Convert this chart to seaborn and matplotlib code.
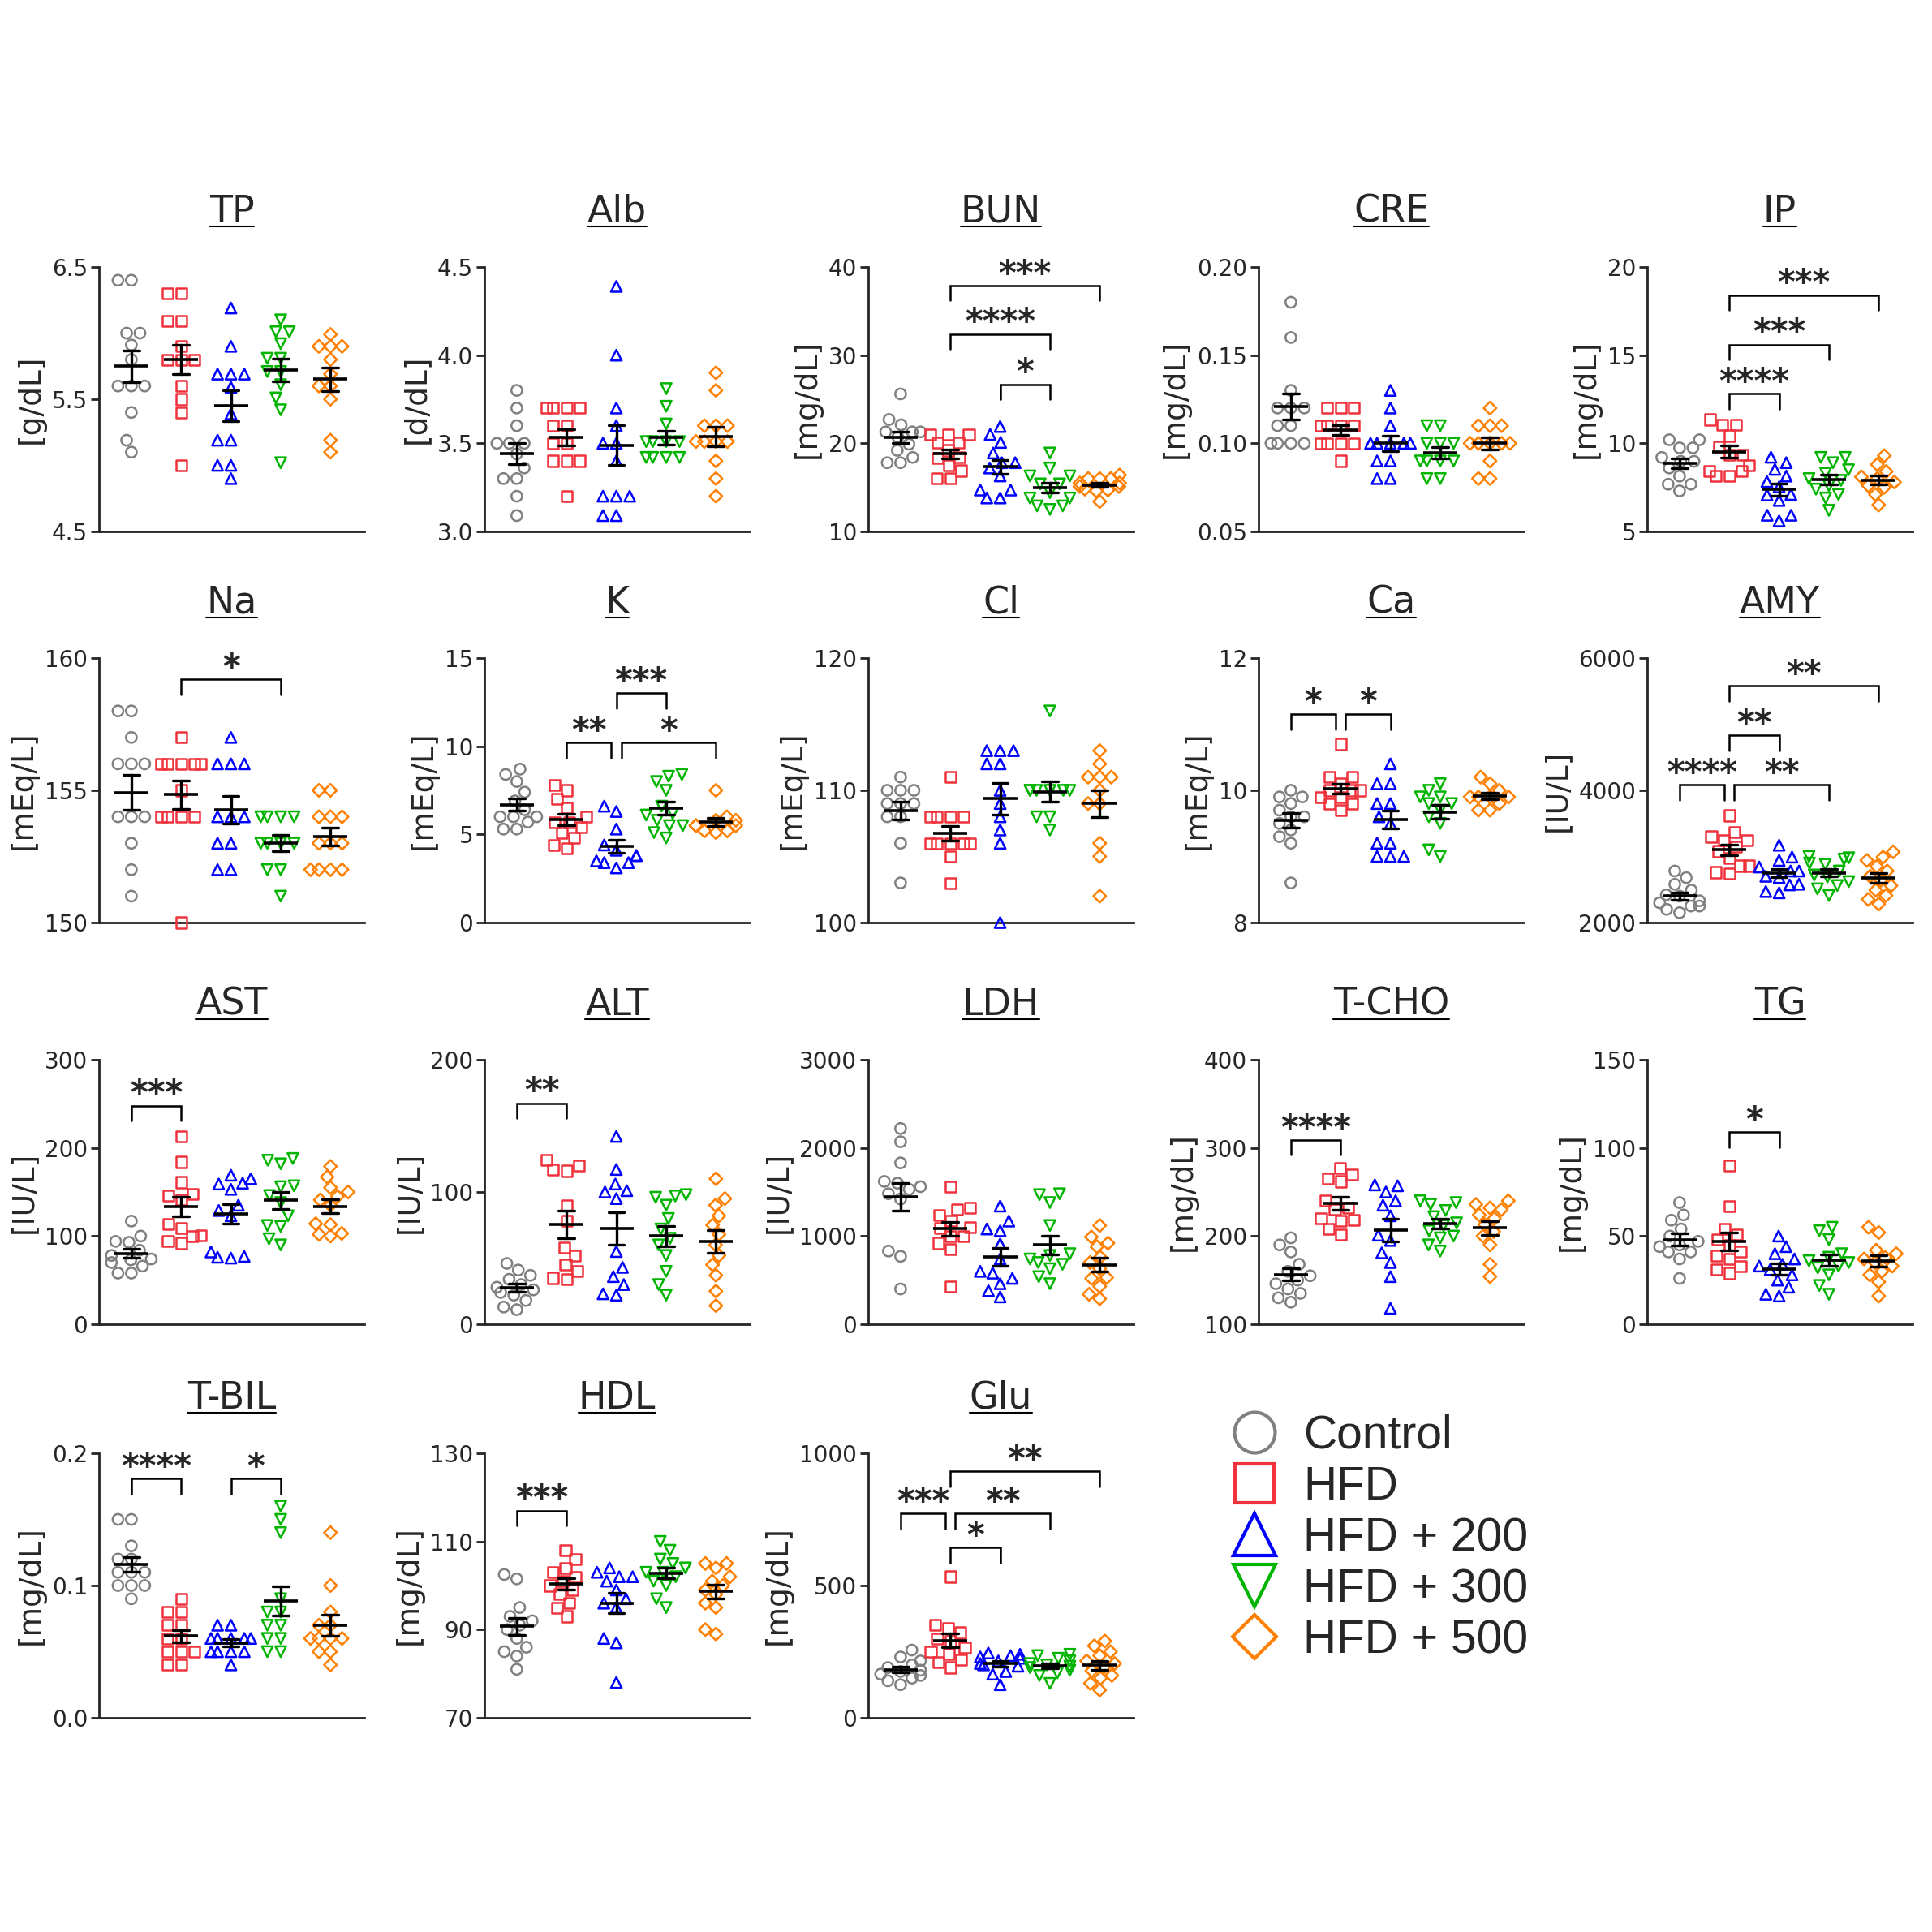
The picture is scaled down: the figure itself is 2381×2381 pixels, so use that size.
import warnings
import numpy as np
import pandas as pd
import seaborn as sns
import matplotlib.pyplot as plt
from matplotlib.lines import Line2D
from matplotlib.ticker import FormatStrFormatter

warnings.filterwarnings('ignore')

groups = ['Control', 'HFD', 'HFD + 200', 'HFD + 300', 'HFD + 500']
colors = ['#808080', '#F0323C', '#0000FF', '#00B400', '#FF8000']
markers = ['o', 's', '^', 'v', 'D']

# values per group: Control, HFD, HFD+200, HFD+300, HFD+500
TP = [
    [6.40, 6.40, 6.00, 6.00, 5.91, 5.80, 5.60, 5.60, 5.60, 5.40, 5.19, 5.10],
    [6.30, 6.30, 6.09, 6.09, 5.90, 5.80, 5.80, 5.80, 5.60, 5.50, 5.40, 5.00],
    [6.19, 5.90, 5.69, 5.69, 5.69, 5.59, 5.39, 5.19, 5.19, 5.00, 5.00, 4.90],
    [6.10, 6.01, 6.01, 5.92, 5.81, 5.81, 5.71, 5.71, 5.61, 5.51, 5.42, 5.02],
    [5.99, 5.90, 5.90, 5.90, 5.80, 5.69, 5.60, 5.60, 5.50, 5.19, 5.10],
]
Alb = [
    [3.80, 3.70, 3.60, 3.50, 3.50, 3.50, 3.44, 3.36, 3.30, 3.30, 3.20, 3.09],
    [3.70, 3.70, 3.70, 3.70, 3.60, 3.60, 3.50, 3.50, 3.40, 3.40, 3.40, 3.20],
    [4.39, 4.00, 3.70, 3.60, 3.50, 3.50, 3.40, 3.20, 3.20, 3.20, 3.09, 3.09],
    [3.81, 3.71, 3.61, 3.51, 3.51, 3.51, 3.51, 3.42, 3.42, 3.42, 3.42],
    [3.90, 3.80, 3.60, 3.60, 3.60, 3.51, 3.51, 3.51, 3.51, 3.40, 3.30, 3.20],
]
BUN = [
    [25.6, 22.7, 22.1, 21.3, 21.3, 21.3, 20.7, 19.9, 19.2, 18.4, 17.8, 17.8],
    [21.0, 21.0, 21.0, 20.1, 20.1, 19.2, 18.4, 18.3, 17.5, 16.9, 16.0, 16.0],
    [21.9, 21.0, 20.1, 18.9, 17.8, 17.8, 17.2, 16.3, 14.7, 14.7, 13.8, 13.8],
    [18.9, 17.2, 16.3, 16.3, 15.4, 15.4, 14.4, 13.8, 13.8, 12.9, 12.9, 12.5],
    [16.4, 16.0, 16.0, 16.0, 15.5, 15.5, 15.1, 15.1, 14.8, 14.7, 14.6, 13.4],
]
CRE = [
    [0.18, 0.16, 0.13, 0.12, 0.12, 0.12, 0.11, 0.11, 0.10, 0.10, 0.10, 0.10],
    [0.12, 0.12, 0.12, 0.11, 0.11, 0.11, 0.11, 0.10, 0.10, 0.10, 0.10, 0.09],
    [0.13, 0.12, 0.11, 0.10, 0.10, 0.10, 0.10, 0.10, 0.09, 0.09, 0.08, 0.08],
    [0.11, 0.11, 0.10, 0.10, 0.10, 0.09, 0.09, 0.09, 0.09, 0.08, 0.08],
    [0.12, 0.11, 0.11, 0.11, 0.10, 0.10, 0.10, 0.10, 0.10, 0.09, 0.08, 0.08],
]
IP = [
    [10.2, 10.2, 9.74, 9.74, 9.2, 8.98, 8.98, 8.6, 8.14, 7.68, 7.68, 7.3],
    [11.35, 11.05, 11.05, 10.43, 9.82, 9.36, 9.36, 8.75, 8.44, 8.44, 8.14, 8.14],
    [9.21, 8.9, 8.52, 8.14, 7.83, 7.53, 7.07, 6.76, 7.1, 5.92, 5.92, 5.6],
    [9.2, 9.2, 8.9, 8.5, 8.3, 8.0, 7.9, 7.6, 7.4, 7.1, 6.9, 6.2],
    [9.3, 8.8, 8.4, 8.1, 8.0, 7.8, 7.6, 7.5, 7.1, 6.5],
]
Na = [
    [158, 158, 157, 156, 156, 156, 154, 154, 154, 153, 152, 151],
    [157, 156, 156, 156, 156, 156, 155, 154, 154, 154, 154, 150],
    [157, 156, 156, 156, 154, 154, 154, 153, 153, 152, 152],
    [154, 154, 154, 154, 153, 153, 153, 153, 152, 152, 151],
    [155, 155, 154, 154, 154, 153, 153, 153, 152, 152, 152, 152],
]
K = [
    [8.7, 8.4, 8.0, 7.4, 6.9, 6.4, 6.0, 6.0, 6.0, 5.7, 5.3, 5.3],
    [7.8, 7.5, 7.0, 6.5, 6.0, 5.7, 5.7, 5.4, 5.1, 4.8, 4.4, 4.2],
    [6.6, 6.3, 5.3, 4.4, 4.1, 3.8, 3.8, 3.5, 3.4, 3.4, 3.1],
    [8.4, 8.3, 8.0, 7.5, 6.6, 6.2, 6.1, 5.8, 5.5, 5.5, 5.1, 4.8],
    [7.5, 6.0, 5.8, 5.8, 5.5, 5.5, 5.5, 5.2, 5.2, 5.1],
]
Cl = [
    [111, 110, 110, 110, 109, 109, 109, 108, 108, 106, 103],
    [111, 108, 108, 108, 108, 106, 106, 106, 106, 106, 105, 103],
    [113, 113, 113, 112, 112, 110, 109, 108, 107, 106, 100],
    [116, 110, 110, 110, 110, 110, 110, 108, 108, 107],
    [113, 112, 111, 111, 111, 110, 109, 109, 106, 105, 102],
]
Ca = [
    [10.0, 9.9, 9.9, 9.8, 9.7, 9.6, 9.6, 9.5, 9.4, 9.3, 9.2, 8.6],
    [10.7, 10.2, 10.2, 10.1, 10.0, 10.0, 10.0, 9.9, 9.9, 9.8, 9.8, 9.7],
    [10.4, 10.1, 10.1, 9.8, 9.8, 9.6, 9.5, 9.2, 9.2, 9.0, 9.0, 9.0],
    [10.1, 10.0, 9.9, 9.9, 9.8, 9.8, 9.7, 9.6, 9.5, 9.1, 9.0],
    [10.2, 10.1, 10.0, 9.9, 9.9, 9.9, 9.9, 9.8, 9.7, 9.7],
]
AMY = [
    [2780, 2680, 2580, 2490, 2420, 2400, 2330, 2300, 2250, 2250, 2200, 2150],
    [3620, 3370, 3300, 3250, 3250, 3150, 3080, 2980, 2860, 2860, 2760, 2740],
    [3170, 2990, 2940, 2840, 2780, 2780, 2700, 2680, 2580, 2570, 2470, 2450],
    [3000, 2980, 2960, 2900, 2880, 2780, 2720, 2690, 2620, 2560, 2510, 2410],
    [3070, 2990, 2940, 2850, 2780, 2700, 2640, 2560, 2490, 2410, 2350, 2280],
]
AST = [
    [117, 100, 94, 93, 84, 78, 74, 73, 70, 66, 58, 58],
    [213, 184, 161, 148, 146, 141, 114, 109, 101, 100, 94, 92],
    [169, 165, 160, 159, 153, 135, 129, 123, 82, 77, 76, 75],
    [188, 186, 182, 157, 156, 146, 138, 123, 112, 111, 97, 90],
    [179, 167, 155, 150, 145, 141, 135, 114, 113, 103, 102, 100],
]
ALT = [
    [46, 41, 37, 34, 30, 28, 26, 24, 22, 18, 13, 11],
    [124, 120, 117, 116, 90, 78, 58, 52, 45, 40, 35, 34],
    [142, 117, 106, 101, 100, 95, 55, 43, 36, 30, 23, 22],
    [98, 97, 96, 90, 80, 72, 65, 60, 52, 40, 30, 22],
    [110, 95, 90, 82, 75, 68, 60, 52, 45, 37, 25, 14],
]
LDH = [
    [2220, 2070, 1830, 1620, 1600, 1560, 1530, 1480, 1420, 830, 770, 400],
    [1560, 1320, 1300, 1240, 1170, 1100, 1090, 1000, 1000, 920, 850, 430],
    [1340, 1170, 1080, 1060, 910, 740, 600, 580, 520, 460, 380, 310],
    [1480, 1470, 1380, 1120, 800, 780, 740, 700, 680, 630, 540, 460],
    [1120, 990, 920, 880, 760, 700, 630, 530, 520, 430, 340, 290],
]
TCHO = [
    [198, 190, 182, 168, 160, 155, 150, 146, 140, 135, 130, 125],
    [277, 270, 265, 262, 240, 230, 232, 218, 220, 217, 208, 202],
    [258, 257, 250, 240, 235, 223, 201, 195, 181, 170, 154, 118],
    [240, 238, 236, 229, 222, 215, 212, 206, 200, 198, 190, 183],
    [240, 236, 232, 230, 224, 220, 213, 205, 200, 190, 168, 154],
]
TG = [
    [69, 62, 59, 54, 50, 47, 45, 44, 41, 41, 37, 26],
    [90, 67, 54, 51, 48, 45, 41, 39, 37, 33, 31, 29],
    [50, 44, 40, 37, 34, 33, 31, 28, 25, 21, 17, 16],
    [55, 53, 48, 40, 36, 33, 38, 35, 32, 28, 22, 17],
    [55, 52, 42, 40, 38, 37, 35, 33, 30, 28, 24, 16],
]
TBIL = [
    [0.15, 0.15, 0.13, 0.12, 0.12, 0.11, 0.11, 0.11, 0.10, 0.10, 0.10, 0.09],
    [0.09, 0.08, 0.08, 0.07, 0.07, 0.06, 0.06, 0.05, 0.05, 0.05, 0.04, 0.04],
    [0.07, 0.07, 0.06, 0.06, 0.06, 0.06, 0.06, 0.05, 0.05, 0.05, 0.05, 0.04],
    [0.16, 0.15, 0.14, 0.09, 0.08, 0.08, 0.07, 0.07, 0.06, 0.06, 0.05, 0.05],
    [0.14, 0.10, 0.08, 0.07, 0.07, 0.06, 0.06, 0.06, 0.06, 0.05, 0.05, 0.04],
]
HDL = [
    [102.5, 101.5, 95, 93, 92, 91, 90, 88, 86, 85, 84, 81],
    [108, 106, 104, 103, 102, 101, 100, 99, 98, 96, 95, 93],
    [104, 103, 102, 102, 101, 99, 97, 96, 95, 88, 87, 78],
    [110, 108, 106, 105, 104, 103, 103, 102, 101, 100, 97, 95],
    [105, 105, 104, 102, 101, 100, 99, 98, 96, 95, 90, 89],
]
Glu = [
    [256, 230, 215, 200, 190, 180, 175, 165, 160, 150, 140, 125],
    [534, 350, 340, 322, 300, 291, 266, 250, 240, 220, 210, 190],
    [245, 240, 235, 230, 225, 215, 205, 200, 195, 175, 165, 125],
    [240, 235, 225, 215, 205, 200, 195, 190, 180, 170, 160, 130],
    [290, 272, 250, 235, 215, 205, 190, 178, 160, 150, 130, 105],
]

# significance brackets: (group a, group b, bracket height, label)
BUN_sig = [(1, 4, 37.9, '***'), (1, 3, 32.4, '****'), (2, 3, 26.7, '*')]
IP_sig = [(1, 4, 18.4, '***'), (1, 3, 15.6, '***'), (1, 2, 12.8, '****')]
Na_sig = [(1, 3, 159.2, '*')]
K_sig = [(2, 3, 13.0, '***'), (1, 2, 10.2, '**'), (2, 4, 10.2, '*')]
Ca_sig = [(0, 1, 11.15, '*'), (1, 2, 11.15, '*')]
AMY_sig = [(1, 4, 5580, '**'), (1, 2, 4830, '**'), (0, 1, 4080, '****'), (1, 3, 4080, '**')]
AST_sig = [(0, 1, 248, '***')]
ALT_sig = [(0, 1, 167, '**')]
TCHO_sig = [(0, 1, 309, '****')]
TG_sig = [(1, 2, 109, '*')]
TBIL_sig = [(0, 1, 0.181, '****'), (2, 3, 0.181, '*')]
HDL_sig = [(0, 1, 117, '***')]
Glu_sig = [(1, 4, 932, '**'), (0, 1, 772, '***'), (1, 3, 772, '**'), (1, 2, 644, '*')]

panels = [
    ('TP', '[g/dL]', TP, [4.5, 5.5, 6.5], '%.1f', []),
    ('Alb', '[d/dL]', Alb, [3.0, 3.5, 4.0, 4.5], '%.1f', []),
    ('BUN', '[mg/dL]', BUN, [10, 20, 30, 40], '%d', BUN_sig),
    ('CRE', '[mg/dL]', CRE, [0.05, 0.10, 0.15, 0.20], '%.2f', []),
    ('IP', '[mg/dL]', IP, [5, 10, 15, 20], '%d', IP_sig),
    ('Na', '[mEq/L]', Na, [150, 155, 160], '%d', Na_sig),
    ('K', '[mEq/L]', K, [0, 5, 10, 15], '%d', K_sig),
    ('Cl', '[mEq/L]', Cl, [100, 110, 120], '%d', []),
    ('Ca', '[mEq/L]', Ca, [8, 10, 12], '%d', Ca_sig),
    ('AMY', '[IU/L]', AMY, [2000, 4000, 6000], '%d', AMY_sig),
    ('AST', '[IU/L]', AST, [0, 100, 200, 300], '%d', AST_sig),
    ('ALT', '[IU/L]', ALT, [0, 100, 200], '%d', ALT_sig),
    ('LDH', '[IU/L]', LDH, [0, 1000, 2000, 3000], '%d', []),
    ('T-CHO', '[mg/dL]', TCHO, [100, 200, 300, 400], '%d', TCHO_sig),
    ('TG', '[mg/dL]', TG, [0, 50, 100, 150], '%d', TG_sig),
    ('T-BIL', '[mg/dL]', TBIL, [0.0, 0.1, 0.2], '%.1f', TBIL_sig),
    ('HDL', '[mg/dL]', HDL, [70, 90, 110, 130], '%d', HDL_sig),
    ('Glu', '[mg/dL]', Glu, [0, 500, 1000], '%d', Glu_sig),
]

sns.set_style('ticks')
plt.rcParams['font.family'] = ['DejaVu Sans']
plt.rcParams['axes.linewidth'] = 2.0

FW = 2381
fig = plt.figure(figsize=(23.81, 23.81), dpi=100)

col_left = [122, 597, 1070, 1551, 2030]
row_bottom = [655, 1137, 1632, 2117]
W, H = 327, 326


def draw_brackets(ax, sig, lo, hi):
    rng = hi - lo
    leg = 0.057 * rng
    for i, j, y, label in sig:
        x1, x2 = float(i), float(j)
        for k, l, y2, _ in sig:
            if (k, l) != (i, j) and abs(y2 - y) < 1e-6 * rng:
                if l == i:
                    x1 += 0.1
                if k == j:
                    x2 -= 0.1
        ax.plot([x1, x1, x2, x2], [y - leg, y, y, y - leg], color='black',
                lw=1.8, clip_on=False, solid_joinstyle='miter')
        ax.text((x1 + x2) / 2, y + 0.004 * rng, label, ha='center', va='baseline',
                fontsize=30, fontweight='bold', clip_on=False)


titles = []
for n, (name, unit, vals, ticks, fmt, sig) in enumerate(panels):
    r, c = divmod(n, 5)
    ax = fig.add_axes([col_left[c] / FW, 1 - row_bottom[r] / FW, W / FW, H / FW])
    df = pd.DataFrame({
        'group': np.repeat(groups, [len(v) for v in vals]),
        'value': np.concatenate(vals),
    })
    for g, col, m in zip(groups, colors, markers):
        n0 = len(ax.collections)
        sns.swarmplot(data=df[df['group'] == g], x='group', y='value', order=groups,
                      color=col, marker=m, size=9.5 if m != 'D' else 8, ax=ax)
        for coll in ax.collections[n0:]:
            coll.set_facecolor('none')
            coll.set_edgecolor(col)
            coll.set_linewidth(1.8)
            # let points sitting on the axis limits show in full
            if len(coll.get_offsets()) > 0:
                coll.set_clip_on(False)
                coll.set_zorder(3)
    sns.pointplot(data=df, x='group', y='value', order=groups, errorbar='se',
                  color='black', marker='_', markersize=30, markeredgewidth=2.6,
                  linestyle='none', capsize=0.32, err_kws={'linewidth': 2.4}, ax=ax)
    for ln in ax.lines:
        ln.set_zorder(4)
    lo, hi = ticks[0], ticks[-1]
    ax.set_ylim(lo, hi)
    ax.set_xlim(-0.65, 4.68)
    ax.set_yticks(ticks)
    ax.yaxis.set_major_formatter(FormatStrFormatter(fmt))
    ax.set_xticks([])
    ax.set_xlabel('')
    ax.set_ylabel(unit, fontsize=27, labelpad=6)
    ax.tick_params(axis='y', length=7, width=2, labelsize=20, pad=3)
    sns.despine(ax=ax)
    draw_brackets(ax, sig, lo, hi)
    t = ax.text(0.5, 1.17, name, transform=ax.transAxes, ha='center', va='baseline',
                fontsize=33)
    titles.append((ax, t))

# underline the panel titles
fig.canvas.draw()
renderer = fig.canvas.get_renderer()
for ax, t in titles:
    bb = t.get_window_extent(renderer)
    base = ax.transAxes.transform((0.5, 1.17))[1] - 5
    x0, x1 = bb.x0 / FW, bb.x1 / FW
    yy = base / FW
    fig.add_artist(Line2D([x0, x1], [yy, yy], color='black', lw=1.5,
                          transform=fig.transFigure))

leg_sizes = [36, 34, 38, 38, 28]
handles = [Line2D([], [], marker=m, linestyle='none', markersize=s,
                  markerfacecolor='none', markeredgecolor=col, markeredgewidth=3)
           for m, col, s in zip(markers, colors, leg_sizes)]
fig.legend(handles, groups, loc='upper left', bbox_to_anchor=(0.6375, 0.268),
           frameon=False, prop={'family': 'Liberation Sans', 'size': 41},
           handlelength=1.0, handletextpad=0.55, labelspacing=0.16,
           borderpad=0, borderaxespad=0)

fig.savefig('out.png', dpi=100)
